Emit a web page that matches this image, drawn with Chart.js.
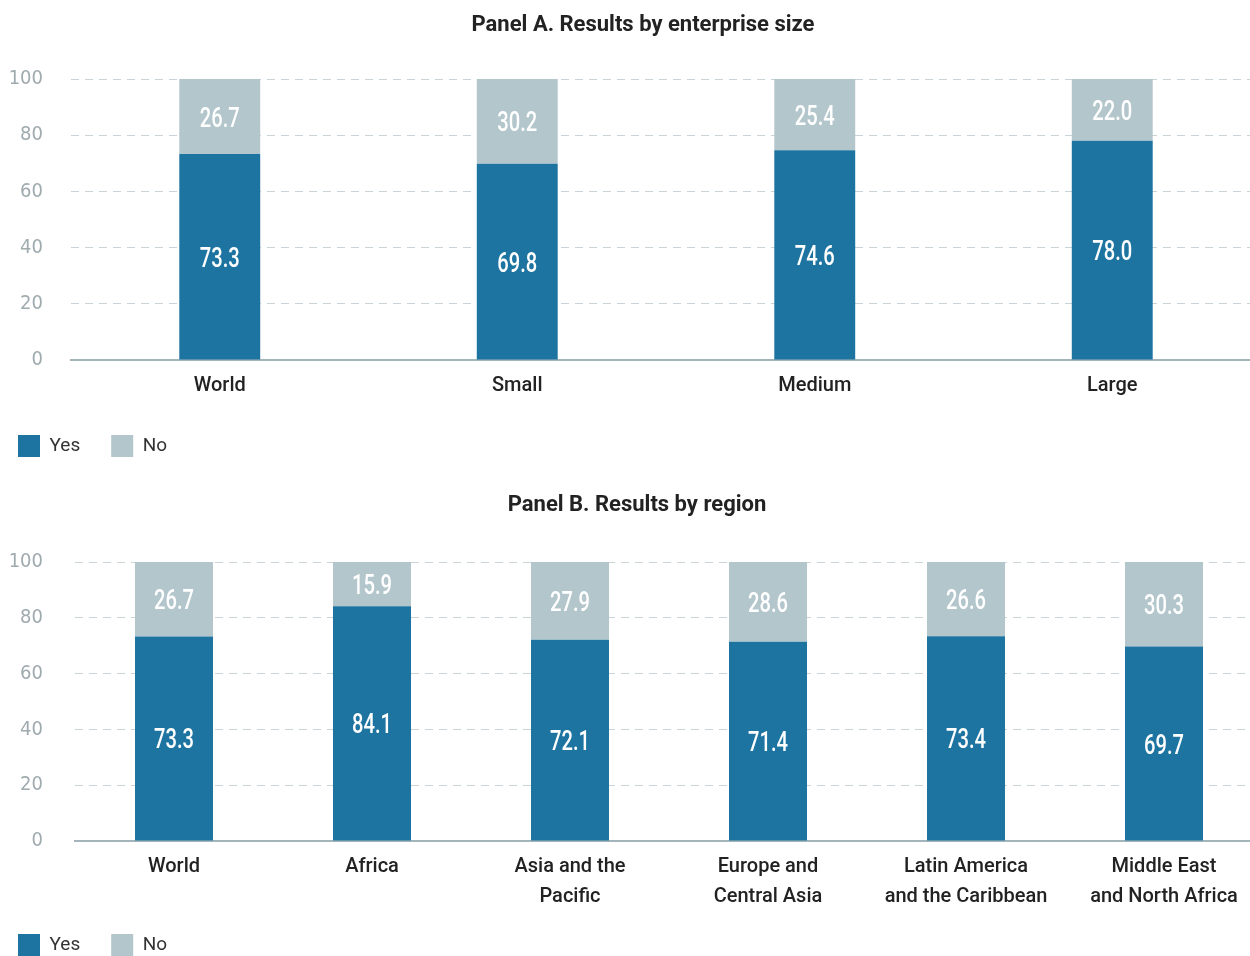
<!DOCTYPE html>
<html>
<head>
<meta charset="utf-8">
<script src="https://cdn.jsdelivr.net/npm/chart.js@4.4.1/dist/chart.umd.min.js"></script>
<style>
    html, body {
        margin: 0;
        padding: 0;
        background: #ffffff;
        width: 1250px;
        height: 956px;
        overflow: hidden;
        position: relative;
    }

    .panel {
        position: absolute;
        left: -13px;
    }

    #panelA { top: 0; }
    #panelB { top: 470px; }
</style>
</head>
<body>
<div class="panel" id="panelA"><canvas id="chartA" width="1290" height="467"></canvas></div>
<div class="panel" id="panelB"><canvas id="chartB" width="1290" height="496"></canvas></div>

<script>
// Panel A: share of firms answering yes / no, by enterprise size
var sizeCategories = ['World', 'Small', 'Medium', 'Large'];
var sizeYes = [73.3, 69.8, 74.6, 78.0];
var sizeNo = [26.7, 30.2, 25.4, 22.0];

// Panel B: same question, by region
var regionCategories = [
    'World',
    'Africa',
    ['Asia and the', 'Pacific'],
    ['Europe and', 'Central Asia'],
    ['Latin America', 'and the Caribbean'],
    ['Middle East', 'and North Africa']
];
var regionYes = [73.3, 84.1, 72.1, 71.4, 73.4, 69.7];
var regionNo = [26.7, 15.9, 27.9, 28.6, 26.6, 30.3];

var seriesNames = ['Yes', 'No'];
var yTicks = [0, 20, 40, 60, 80, 100];

var panelCharts = (function () {

    var colors = {
        yes: '#1e74a0',
        no: '#b3c6cc',
        grid: '#c9d4d8',
        baseline: '#a3b5bb',
        tick: '#a0abaf',
        text: '#222222'
    };

    var narrowFont = "'Liberation Sans Narrow', 'DejaVu Sans Condensed', 'Roboto', sans-serif";

    /**
     * Writes each segment's value in white, centred in the segment.
     * The text is squeezed horizontally to get a condensed look.
     */
    var segmentLabels = {
        id: 'segmentLabels',
        afterDatasetsDraw: function (chart) {
            var ctx = chart.ctx;
            chart.data.datasets.forEach(function (ds, i) {
                var meta = chart.getDatasetMeta(i);
                meta.data.forEach(function (bar, j) {
                    var mid = (bar.y + bar.base) / 2;
                    ctx.save();
                    ctx.translate(bar.x, mid + 10);
                    ctx.scale(0.72, 1);
                    ctx.font = '500 28px Roboto';
                    ctx.fillStyle = '#ffffff';
                    ctx.textAlign = 'center';
                    ctx.textBaseline = 'alphabetic';
                    ctx.fillText(ds.data[j].toFixed(1), 0, 0);
                    ctx.restore();
                });
            });
        }
    };

    // Nudges the title box sideways so it centres over the plot rather than the canvas
    var titleShift = {
        id: 'titleShift',
        afterLayout: function (chart, args, pluginOpts) {
            if (chart.titleBlock) {
                chart.titleBlock.left += pluginOpts.offset;
                chart.titleBlock.right += pluginOpts.offset;
            }
        }
    };

    var buildConfig = function (labels, yes, no, opts) {
        return {
            type: 'bar',
            data: {
                labels: labels,
                datasets: [
                    {
                        label: seriesNames[0],
                        backgroundColor: colors.yes,
                        data: yes,
                        barPercentage: opts.barPercentage,
                        categoryPercentage: 1
                    },
                    {
                        label: seriesNames[1],
                        backgroundColor: colors.no,
                        data: no,
                        barPercentage: opts.barPercentage,
                        categoryPercentage: 1
                    }
                ]
            },
            options: {
                responsive: false,
                animation: false,
                layout: {
                    padding: { left: 0, right: opts.padRight, top: 0, bottom: 0 }
                },
                plugins: {
                    title: {
                        display: true,
                        text: opts.title,
                        color: colors.text,
                        font: { family: 'Roboto', size: 22, weight: 'bold', lineHeight: 1.2 },
                        padding: { top: opts.titleTop, bottom: opts.titleBottom }
                    },
                    titleShift: { offset: opts.titleOffset },
                    legend: {
                        position: 'bottom',
                        align: 'start',
                        labels: {
                            boxWidth: 22,
                            boxHeight: 22,
                            padding: 31,
                            color: '#333333',
                            font: { family: 'Roboto', size: 19 }
                        }
                    },
                    tooltip: { enabled: false }
                },
                scales: {
                    x: {
                        stacked: true,
                        grid: { display: false, drawTicks: false },
                        border: { display: true, color: colors.baseline, width: 2 },
                        ticks: {
                            color: colors.text,
                            padding: opts.tickPad,
                            maxRotation: 0,
                            autoSkip: false,
                            font: { family: 'Roboto', size: 20, weight: '500', lineHeight: opts.tickLineHeight }
                        },
                        afterFit: function (scale) {
                            scale.height = opts.axisHeight;
                        }
                    },
                    y: {
                        stacked: true,
                        min: 0,
                        max: 100,
                        grid: {
                            drawTicks: false,
                            lineWidth: 1,
                            color: function (c) {
                                return c.tick && c.tick.value === 0 ? 'rgba(0,0,0,0)' : colors.grid;
                            }
                        },
                        border: { display: false, dash: [8, 6] },
                        ticks: {
                            color: colors.tick,
                            padding: opts.yPad,
                            font: { family: narrowFont, size: 20 }
                        },
                        afterBuildTicks: function (scale) {
                            scale.ticks = yTicks.map(function (v) { return { value: v }; });
                        },
                        afterFit: function (scale) {
                            scale.width = opts.axisWidth;
                        }
                    }
                }
            },
            plugins: [segmentLabels, titleShift]
        };
    };

    var init = function () {
        new Chart(document.getElementById('chartA').getContext('2d'), buildConfig(
            sizeCategories, sizeYes, sizeNo, {
                title: 'Panel A. Results by enterprise size',
                titleTop: 11.8,
                titleBottom: 40.8,
                titleOffset: 19,
                barPercentage: 0.272,
                padRight: 16,
                axisWidth: 84,
                yPad: 28,
                axisHeight: 44,
                tickPad: 13.6,
                tickLineHeight: 1.2
            }
        ));

        new Chart(document.getElementById('chartB').getContext('2d'), buildConfig(
            regionCategories, regionYes, regionNo, {
                title: 'Panel B. Results by region',
                titleTop: 21.8,
                titleBottom: 43.8,
                titleOffset: 12,
                barPercentage: 0.394,
                padRight: 14,
                axisWidth: 88,
                yPad: 32,
                axisHeight: 62,
                tickPad: 11,
                tickLineHeight: 1.5
            }
        ));
    };

    return {
        init: init
    };
})();

panelCharts.init();
</script>
</body>
</html>
